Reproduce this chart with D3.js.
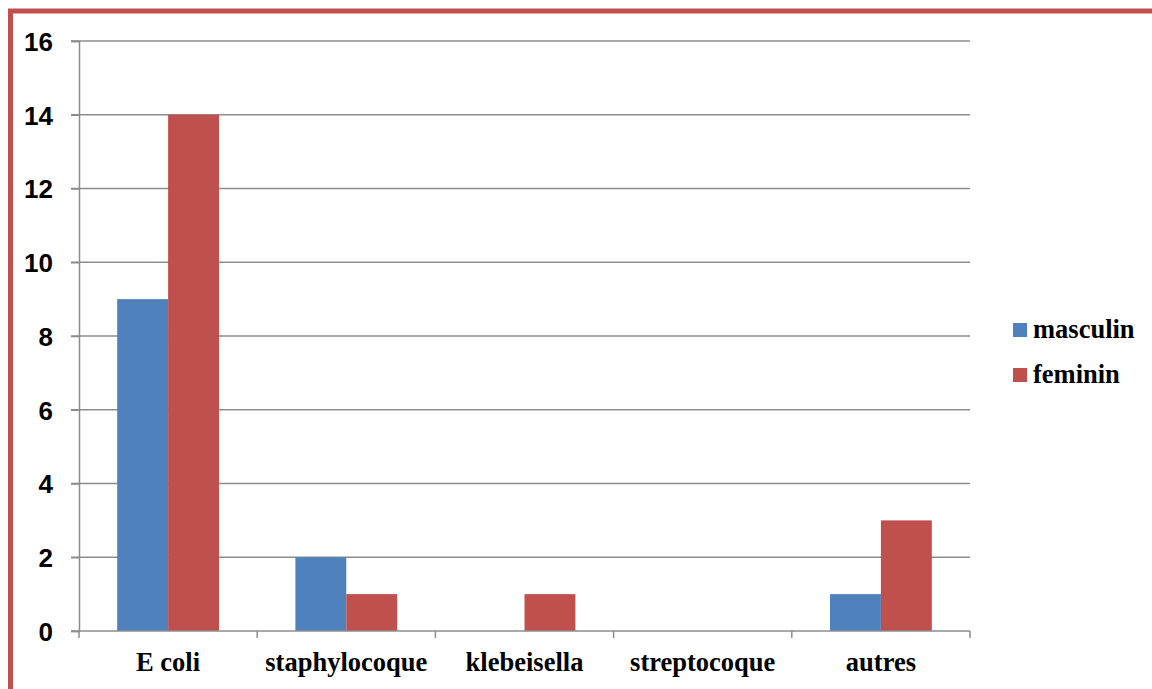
<!DOCTYPE html>
<html><head><meta charset="utf-8">
<script src="https://cdn.jsdelivr.net/npm/d3@7"></script>
<style>body{margin:0;background:#fff;}svg{display:block;}
.serif{font-family:"Liberation Serif","Times New Roman",serif;font-weight:bold;}
.sans{font-family:"Liberation Sans",Arial,sans-serif;font-weight:bold;}
</style>
</head><body>
<svg id="chart" width="1152" height="689"></svg>
<script>
const categories = ["E coli", "staphylocoque", "klebeisella", "streptocoque", "autres"];
const seriesNames = ["masculin", "feminin"];
const masculin = [9, 2, 0, 0, 1];
const feminin = [14, 1, 1, 0, 3];
const yTicks = [0, 2, 4, 6, 8, 10, 12, 14, 16];
const colors = ["#4F81BD", "#C0504D"];

const svg = d3.select("#chart");
const W = 1152, H = 689;
const m = {left: 79, top: 41, right: 970, bottom: 631};

svg.append("rect").attr("x", 10.5).attr("y", 11).attr("width", W + 20).attr("height", H + 20)
  .attr("fill", "none").attr("stroke", "#C0504D").attr("stroke-width", 5);

const x = d3.scaleBand().domain(categories).range([m.left, m.right]).paddingInner(0).paddingOuter(0);
const y = d3.scaleLinear().domain([0, 16]).range([m.bottom, m.top]);

// gridlines
svg.append("g").selectAll("line").data(yTicks.filter(d => d > 0)).join("line")
  .attr("x1", m.left - 8).attr("x2", m.right).attr("y1", d => y(d)).attr("y2", d => y(d))
  .attr("stroke", "#8C8C8C").attr("stroke-width", 1.5);

const data = categories.map((c, i) => ({cat: c, vals: [masculin[i], feminin[i]]}));
const bw = x.bandwidth() / 3.5;
const g = svg.append("g");
data.forEach(d => {
  d.vals.forEach((v, j) => {
    if (v <= 0) return;
    const x0 = x(d.cat) + x.bandwidth() * 0.75 / 3.5 + j * bw;
    g.append("rect").attr("x", x0).attr("width", bw).attr("y", y(v)).attr("height", y(0) - y(v))
      .attr("fill", colors[j]);
  });
});

// y axis
const yAxis = d3.axisLeft(y).tickValues(yTicks).tickSize(8).tickPadding(18);
const ya = svg.append("g").attr("transform", `translate(${m.left},0)`).call(yAxis);
ya.attr("font-family", null).attr("font-size", null);
ya.select(".domain").attr("stroke", "#8C8C8C").attr("stroke-width", 1.5);
ya.selectAll(".tick line").attr("stroke", "#8C8C8C").attr("stroke-width", 1.5);
ya.selectAll("text").attr("class", "sans").style("font-size", "26px").attr("fill", "#000").attr("dy", "0.36em");

// x axis
const xa = svg.append("g").attr("transform", `translate(0,${m.bottom})`);
xa.append("line").attr("x1", m.left - 8).attr("x2", m.right).attr("y1", 0).attr("y2", 0)
  .attr("stroke", "#8C8C8C").attr("stroke-width", 1.5);
const boundaries = categories.map(c => x(c)).concat([m.right]);
xa.selectAll("line.t").data(boundaries).join("line").attr("class", "t")
  .attr("x1", d => d).attr("x2", d => d).attr("y1", 0).attr("y2", 7)
  .attr("stroke", "#8C8C8C").attr("stroke-width", 1.5);
xa.selectAll("text").data(categories).join("text").attr("class", "serif")
  .attr("x", d => x(d) + x.bandwidth() / 2).attr("y", 40).attr("text-anchor", "middle")
  .style("font-size", "26.5px").attr("fill", "#000").text(d => d);

// legend
const lg = svg.append("g");
seriesNames.forEach((s, i) => {
  const yy = 330 + i * 45;
  lg.append("rect").attr("x", 1013).attr("y", yy - 7).attr("width", 14).attr("height", 14).attr("fill", colors[i]);
  lg.append("text").attr("class", "serif").attr("x", 1033).attr("y", yy + 8)
    .style("font-size", "26.5px").attr("fill", "#000").text(s);
});
</script>
</body></html>
